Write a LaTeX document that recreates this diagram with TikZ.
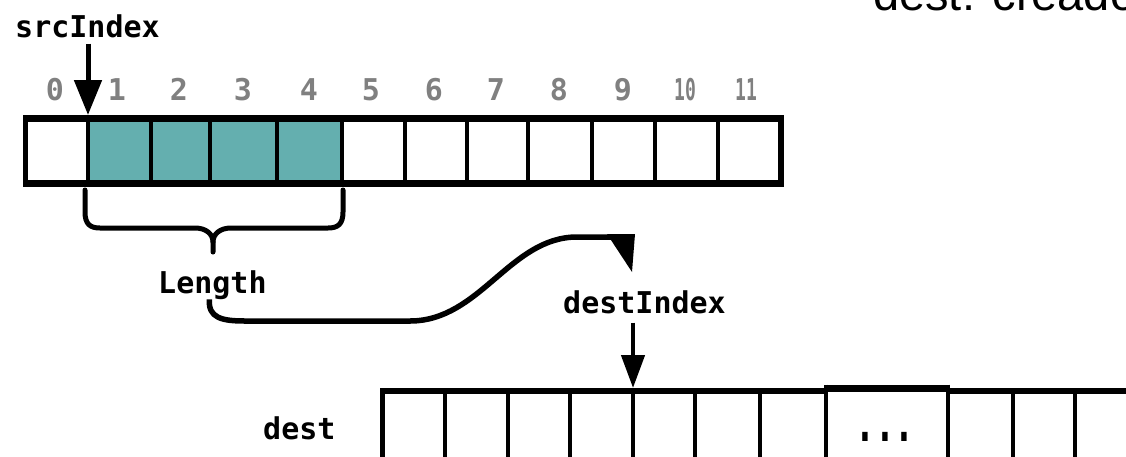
\documentclass[tikz,border=0pt]{standalone}
\usepackage{fontspec}
\usepackage{graphicx}
\setmainfont{Liberation Sans}
\newfontfamily\pixfont{DejaVu Sans Mono}
\usetikzlibrary{arrows.meta}
\definecolor{tealcell}{RGB}{100,175,175}
\definecolor{numgray}{RGB}{128,128,128}
\tikzset{
  lbl/.style={font=\pixfont\bfseries\fontsize{30}{30}\selectfont, inner sep=0pt, anchor=base west},
  num/.style={font=\pixfont\bfseries\fontsize{30}{30}\selectfont, text=numgray, inner sep=0pt, anchor=base},
  divider/.style={line width=4pt},
  edge/.style={line width=5pt},
  ptr/.style={line width=5pt, -{Triangle[length=35pt,width=27pt]}},
  ptrsmall/.style={line width=4.5pt, -{Triangle[length=33pt,width=23pt]}},
  bracepath/.style={line width=5pt, line join=round, line cap=round},
  flow/.style={line width=5.5pt, line join=round},
}
\begin{document}
\begin{tikzpicture}[x=1pt,y=-1pt]
\useasboundingbox (0,0) rectangle (1126,456);
\clip (0,0) rectangle (1126,456);

% title text (cut off at the top)
\node[font=\fontsize{47}{47}\selectfont, inner sep=0pt, anchor=base west] (title) at (873,10) {dest: creado};

% ---------- source array ----------
\fill[tealcell] (88,118) rectangle (342,184);
\foreach \x in {88,151,210,277,342,405,467,528,592,655,718}
  \draw[divider] (\x,115) -- (\x,187);
\draw[line width=7pt] (23,118.5) -- (784,118.5);
\draw[line width=7pt] (23,183.5) -- (784,183.5);
\draw[edge] (25.5,115) -- (25.5,187);
\draw[line width=6pt] (781,115) -- (781,187);

% indices
\foreach \n/\x in {0/55,1/117,2/179,3/243,4/309,5/371,6/434,7/496,8/559,9/623}
  \node[num] (n\n) at (\x,100) {\n};
\node[num] (n10) at (685,100) {\scalebox{0.6}[1]{10}};
\node[num] (n11) at (746,100) {\scalebox{0.6}[1]{11}};

% srcIndex pointer
\node[lbl] (src) at (15,37) {srcIndex};
\coordinate (c1) at (88,115);
\draw[ptr, shorten <=6pt] (src.south -| c1) -- (c1);

% brace under the copied range
\draw[bracepath] (85,190) -- (85,212) .. controls (85,224) and (90,228) .. (100,228)
  -- (195,228) .. controls (206,228) and (213,234) .. (213,242) -- (213,252);
\draw[bracepath] (213,242) .. controls (213,234) and (220,228) .. (231,228)
  -- (328,228) .. controls (338,228) and (343,224) .. (343,212) -- (343,190);

\node[lbl] (len) at (158,293) {Length};

% destIndex label and curved connector
\node[lbl] (di) at (563,313) {destIndex};
\coordinate (ctip) at (632,272);
\draw[flow] ([xshift=-3pt]len.south) .. controls (208,318) and (222,321) .. (245,321)
  -- (410,321) .. controls (480,321) and (510,237) .. (577,237) -- (612,237);
\fill (607,234) -- (635,234) -- (ctip) -- cycle;

% ---------- destination array ----------
\node[lbl] (dst) at (263,439) {dest};
\coordinate (d4) at (633,388);
\foreach \x in {445,508,570,633,695,760,1013,1075}
  \draw[line width=4.5pt] (\x,391) -- (\x,460);
\draw[line width=4.5pt] (826,384.5) -- (826,460);
\draw[line width=4.5pt] (948,384.5) -- (948,460);
\draw[edge] (382.5,388) -- (382.5,460);
\draw[line width=6pt] (380,391) -- (828,391);
\draw[line width=6pt] (946,391) -- (1130,391);
\draw[line width=7pt] (824,388) -- (950,388);
\node[lbl, anchor=base] (dots) at (885,441) {\scalebox{1.1}[1.7]{...}};

\draw[ptrsmall, shorten <=9pt] (di.south -| d4) -- (d4);
\end{tikzpicture}
\end{document}
